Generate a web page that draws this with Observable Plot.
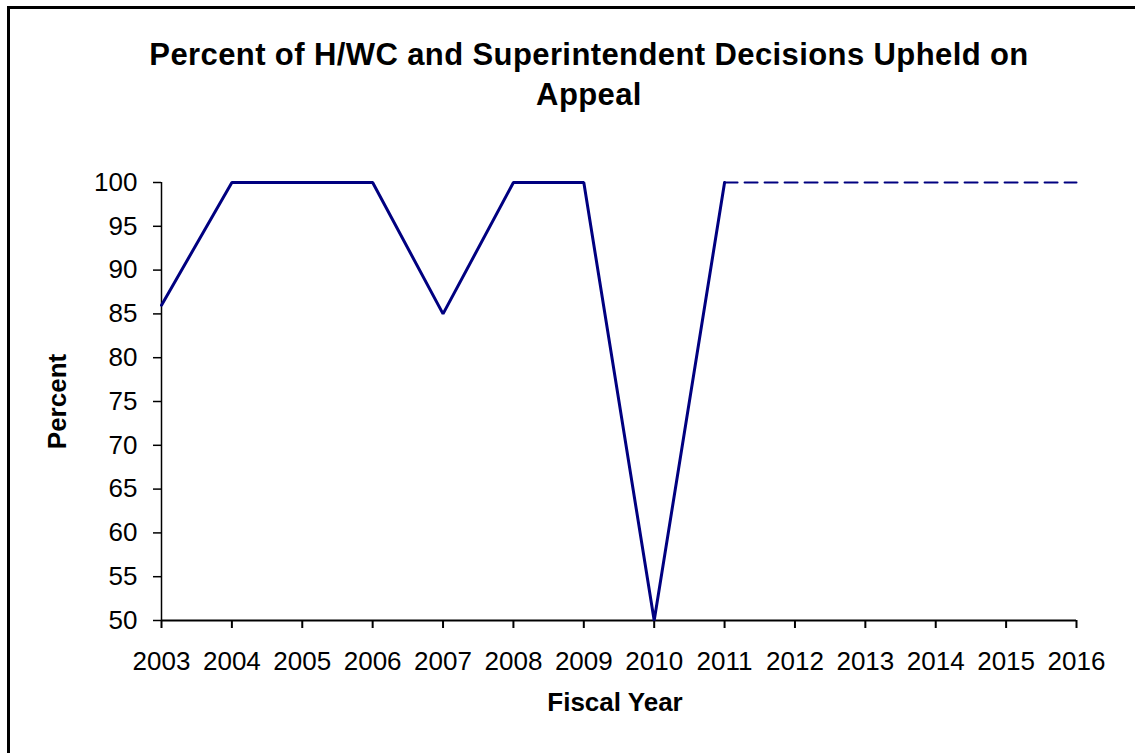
<!DOCTYPE html>
<html>
<head>
<meta charset="utf-8">
<script src="https://cdn.jsdelivr.net/npm/d3@7"></script>
<script src="https://cdn.jsdelivr.net/npm/@observablehq/plot@0.6"></script>
<style>
  html, body { margin: 0; padding: 0; background: #fff; overflow: hidden; }
  #chart { position: relative; width: 1135px; height: 753px; overflow: hidden; font-family: "Liberation Sans", Arial, sans-serif; }
  #frame { position: absolute; left: 7px; top: 6px; width: 1200px; height: 800px; border-left: 3px solid #000; border-top: 3px solid #000; box-sizing: border-box; pointer-events: none; }
  #title { box-sizing: border-box; height: 120px; padding-top: 35px; padding-left: 43px; text-align: center; font-weight: bold; font-size: 31px; letter-spacing: 0.4px; line-height: 40px; color: #000; white-space: nowrap; }
  #plot svg { display: block; }
</style>
</head>
<body>
<div id="chart">
  <div id="frame"></div>
  <div id="title">Percent of H/WC and Superintendent Decisions Upheld on<br>Appeal</div>
  <div id="plot"></div>
</div>
<script>
const years = [2003, 2004, 2005, 2006, 2007, 2008, 2009, 2010, 2011];
const percents = [86, 100, 100, 100, 85, 100, 100, 50, 100];
const projYears = [2011, 2012, 2013, 2014, 2015, 2016];
const projPercents = [100, 100, 100, 100, 100, 100];
const xTicks = [2003, 2004, 2005, 2006, 2007, 2008, 2009, 2010, 2011, 2012, 2013, 2014, 2015, 2016];
const yTicks = [50, 55, 60, 65, 70, 75, 80, 85, 90, 95, 100];
const xLabel = "Fiscal Year";
const yLabel = "Percent";

const actual = years.map((y, i) => ({year: y, pct: percents[i]}));
const proj = projYears.map((y, i) => ({year: y, pct: projPercents[i]}));

const xDomain = [xTicks[0], xTicks[xTicks.length - 1]];
const yDomain = [yTicks[0], yTicks[yTicks.length - 1]];

const chart = Plot.plot({
  width: 1135,
  height: 633,
  marginLeft: 161,
  marginRight: 59,
  marginTop: 62,
  marginBottom: 133,
  style: { fontFamily: "'Liberation Sans', Arial, sans-serif", fontSize: "26px", color: "#000", background: "#fff", overflow: "visible" },
  x: { domain: xDomain, ticks: xTicks, tickFormat: d => String(d), tickSize: 8, tickPadding: 22, label: null },
  y: { domain: yDomain, ticks: yTicks, tickFormat: d => String(d), tickSize: 8, tickPadding: 16, label: null },
  marks: [
    Plot.axisX({ ticks: xTicks, tickFormat: d => String(d), tickSize: 8, tickPadding: 23, strokeWidth: 2, label: null, fontSize: 26 }),
    Plot.axisY({ ticks: yTicks, tickFormat: d => String(d), tickSize: 8, tickPadding: 16, strokeWidth: 1.5, label: null, fontSize: 26 }),
    Plot.ruleY([yDomain[0]], { stroke: "#000", strokeWidth: 2 }),
    Plot.ruleX([xDomain[0]], { stroke: "#000", strokeWidth: 1.5 }),
    Plot.line(proj, { x: "year", y: "pct", stroke: "#000080", strokeWidth: 2, strokeDasharray: "13,7" }),
    Plot.line(actual, { x: "year", y: "pct", stroke: "#000080", strokeWidth: 3, strokeLinejoin: "miter" }),
    Plot.text([yLabel], { frameAnchor: "left", dx: -104, rotate: -90, textAnchor: "middle", lineAnchor: "middle", fontWeight: "bold", fontSize: 26, fill: "#000" }),
    Plot.text([xLabel], { frameAnchor: "bottom", dy: 82, dx: -4, textAnchor: "middle", lineAnchor: "middle", fontWeight: "bold", fontSize: 26, fill: "#000" })
  ]
});
document.getElementById("plot").appendChild(chart);
</script>
</body>
</html>
